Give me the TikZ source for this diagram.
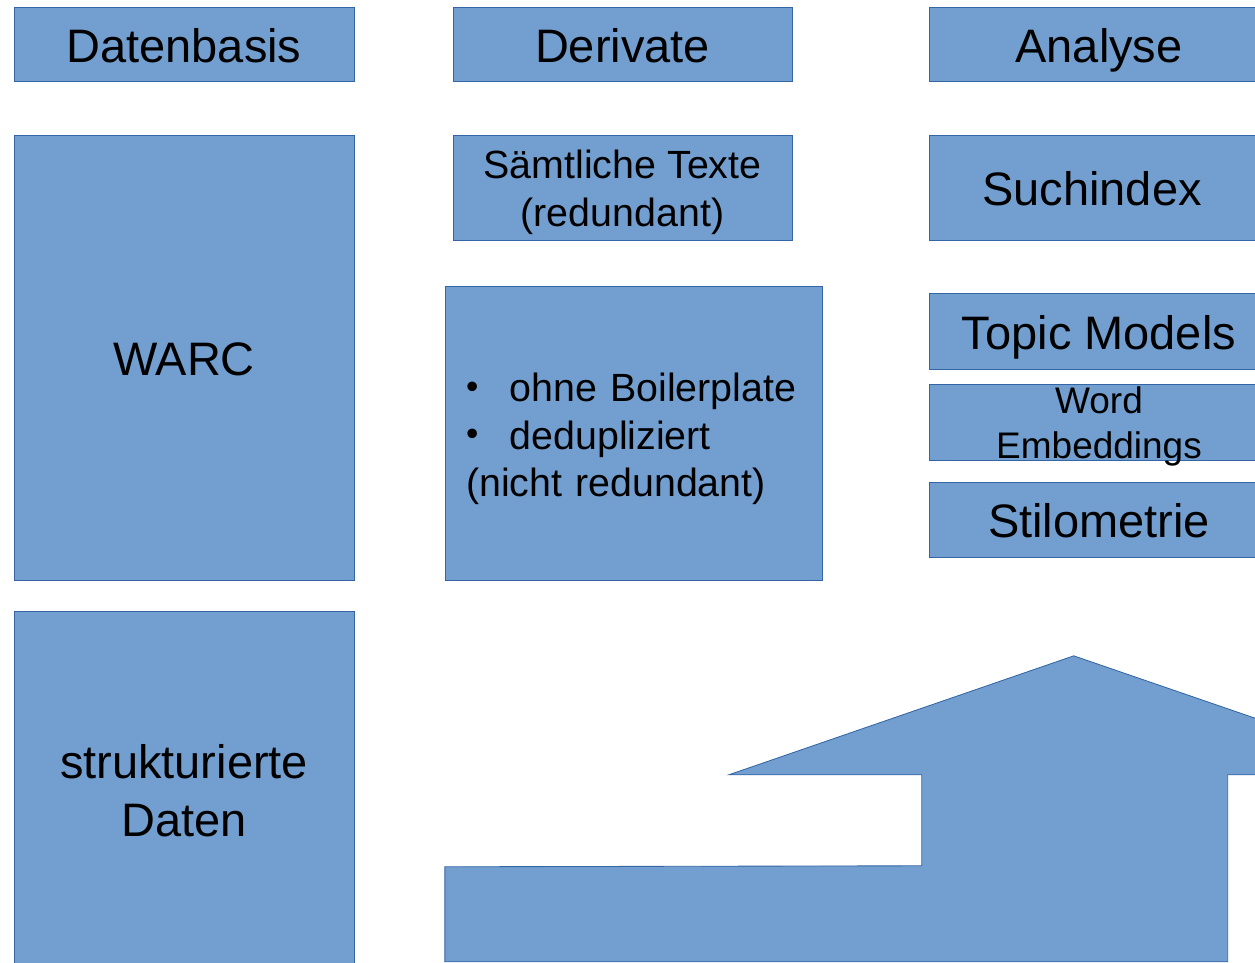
\documentclass[tikz,border=0pt]{standalone}
\usepackage{fontspec}
\setmainfont{Liberation Sans}
\usetikzlibrary{positioning}
\definecolor{boxfill}{HTML}{729FCF}
\definecolor{boxline}{HTML}{3465A4}
\newcommand{\blt}{\makebox[31pt][l]{\raisebox{2.5pt}{\fontsize{25}{25}\selectfont\textbullet}}}
\tikzset{blk/.style={draw=boxline, fill=boxfill, line width=0.6pt, inner sep=0pt, outer sep=0pt, align=center}, % every blue box
big/.style={font=\fontsize{33.4}{41.3}\selectfont},
mid/.style={font=\fontsize{28}{33.6}\selectfont},
small/.style={font=\fontsize{26.3}{32}\selectfont},
one/.style={text height=26pt, text depth=0pt}, % single line, same baseline
head/.style={blk, big, one, minimum width=8.5cm, minimum height=1.85cm}, % column titles
}

\begin{document}
\begin{tikzpicture}
\useasboundingbox (0,0) rectangle (31.375,-24.075);
\clip (0,0) rectangle (31.375,-24.075);
% titles
\node[head, anchor=north west] (datenbasis) at (0.35,-0.175) {Datenbasis};
\node[head, minimum width=8.475cm, right=2.475cm of datenbasis] (derivate) {Derivate};
\node[head, right=3.425cm of derivate] (analyse) {Analyse};
% Datenbasis
\node[blk, big, one, minimum width=8.5cm, minimum height=11.125cm, below=1.35cm of datenbasis] (warc) {WARC};
\node[blk, minimum width=8.5cm, minimum height=8.9cm, below=0.775cm of warc, label={[big, align=center, yshift=-1.4pt]center:strukturierte\\Daten}] (struct) {};
% Derivate
\node[blk, minimum width=8.475cm, minimum height=2.625cm, below=1.35cm of derivate, label={[mid, align=center, yshift=-3.5pt]center:Sämtliche Texte\\(redundant)}] (texte) {};
\node[blk, minimum width=9.425cm, minimum height=7.35cm, below=1.15cm of texte, xshift=0.275cm, label={[mid, align=left, text width=8.375cm, yshift=-4.2pt]center:\blt ohne Boilerplate\\\blt dedupliziert\\(nicht redundant)}] (clean) {};
% Analyse
\node[blk, big, one, minimum width=8.15cm, minimum height=2.625cm, below=1.35cm of analyse.south west, anchor=north west] (index) {Suchindex};
\node[blk, big, one, minimum width=8.5cm, minimum height=1.9cm, below=1.325cm of index.south west, anchor=north west] (topics) {Topic Models};
\node[blk, minimum width=8.5cm, minimum height=1.9cm, below=0.375cm of topics, label={[small, align=center, yshift=-3.5pt]center:Word\\Embeddings}] (embed) {};
\node[blk, big, one, minimum width=8.5cm, minimum height=1.875cm, below=0.55cm of embed] (stilo) {Stilometrie};
% big arrow
\begin{scope}[x=0.025cm, y=-0.025cm]
\draw[blk] (445,962) -- (445,867) -- (922,866) -- (922,775) -- (729,775) -- (1074,656) -- (1420,775) -- (1228,775) -- (1228,962) -- cycle;
\end{scope}
\end{tikzpicture}
\end{document}
